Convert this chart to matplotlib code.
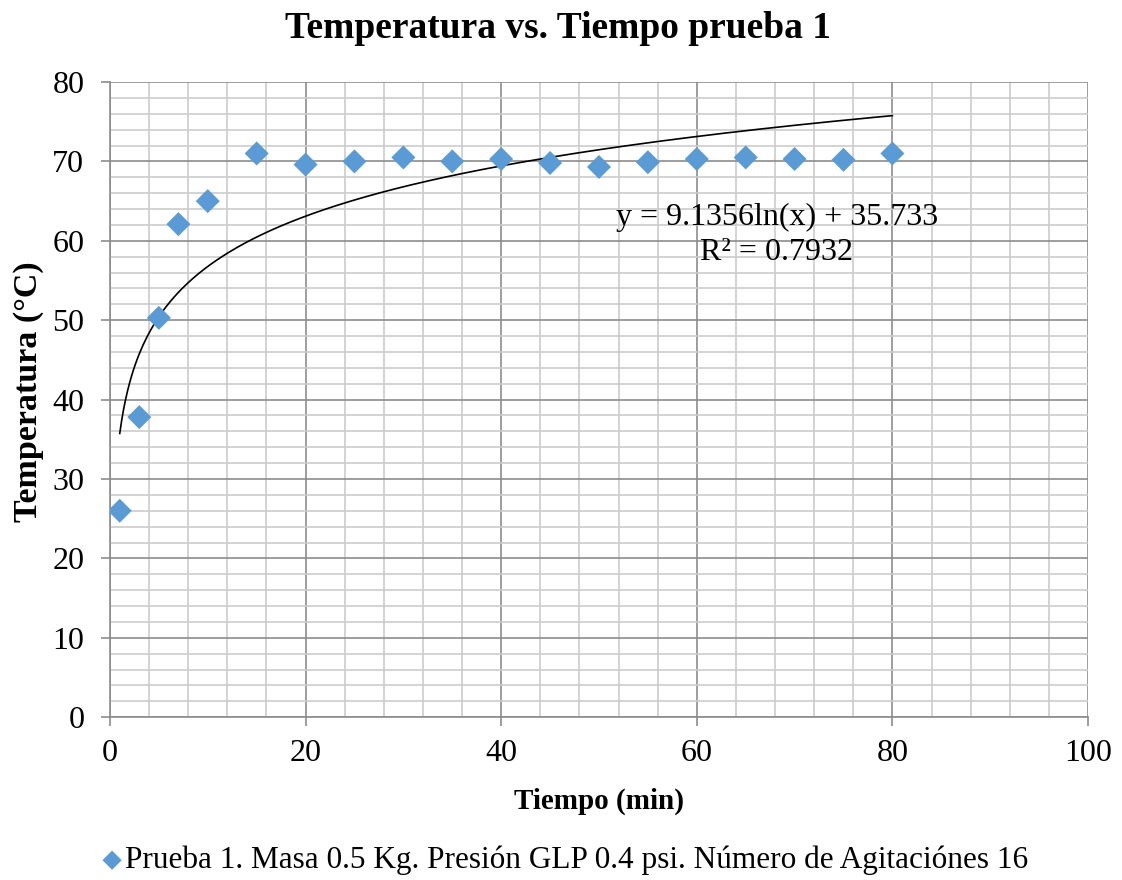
import numpy as np
import matplotlib.pyplot as plt
from matplotlib.ticker import MultipleLocator

# Data
tiempo = [1, 3, 5, 7, 10, 15, 20, 25, 30, 35, 40, 45, 50, 55, 60, 65, 70, 75, 80]
temperatura = [26.0, 37.8, 50.3, 62.1, 65.0, 71.0, 69.6, 70.0, 70.5, 70.0, 70.3,
               69.8, 69.3, 69.9, 70.3, 70.5, 70.3, 70.2, 71.0]

# Logarithmic trendline coefficients shown on the chart
coef_a = 9.1356
coef_b = 35.733
r2 = 0.7932

plt.rcParams['font.family'] = ['Liberation Serif', 'DejaVu Serif']

fig = plt.figure(figsize=(11.22, 8.8), dpi=100)
ax = fig.add_axes([0.098, 0.185, 0.8717, 0.7218])

# Trendline
xt = np.linspace(min(tiempo), max(tiempo), 400)
ax.plot(xt, coef_a * np.log(xt) + coef_b, color='black', lw=1.2, zorder=3)

# Data points
ax.scatter(tiempo, temperatura, marker='D', s=150, color='#5B9BD5',
           edgecolors='none', zorder=4,
           label='Prueba 1. Masa 0.5 Kg. Presión GLP 0.4 psi. Número de Agitaciónes 16')

ax.set_xlim(0, 100)
ax.set_ylim(0, 80)
ax.xaxis.set_major_locator(MultipleLocator(20))
ax.xaxis.set_minor_locator(MultipleLocator(4))
ax.yaxis.set_major_locator(MultipleLocator(10))
ax.yaxis.set_minor_locator(MultipleLocator(2))

ax.grid(which='major', color='#8c8c8c', lw=1.2, zorder=0)
ax.grid(which='minor', color='#cccccc', lw=1.2, zorder=0)
ax.set_axisbelow(True)

for side in ['top', 'right']:
    ax.spines[side].set_visible(False)
for side in ['left', 'bottom']:
    ax.spines[side].set_color('#8c8c8c')
    ax.spines[side].set_linewidth(1.2)

ax.tick_params(which='major', direction='out', length=6.5, width=1.2,
               color='#8c8c8c', labelsize=23)
ax.tick_params(axis='x', pad=9)
ax.tick_params(axis='y', pad=12)
ax.tick_params(which='minor', length=0)

# Title centred on the figure, like the spreadsheet chart
fig.text(0.497, 0.968, 'Temperatura vs. Tiempo prueba 1', fontsize=27,
         fontweight='bold', ha='center', va='center')
ax.set_xlabel('Tiempo (min)', fontsize=21, fontweight='bold', labelpad=14)
ax.set_ylabel('Temperatura (°C)', fontsize=24.5, fontweight='bold')
ax.yaxis.set_label_coords(-0.067, 0.512)

ax.text(68.2, 62.9, f'y = {coef_a}ln(x) + {coef_b}', fontsize=23,
        ha='center', va='center', zorder=5)
ax.text(68.2, 58.5, f'R² = {r2}', fontsize=23, ha='center', va='center', zorder=5)

fig.legend(loc='center', bbox_to_anchor=(0.494, 0.022), frameon=False,
           fontsize=22.5, handletextpad=-0.6, markerscale=0.8)

fig.savefig('out.png', dpi=100)
